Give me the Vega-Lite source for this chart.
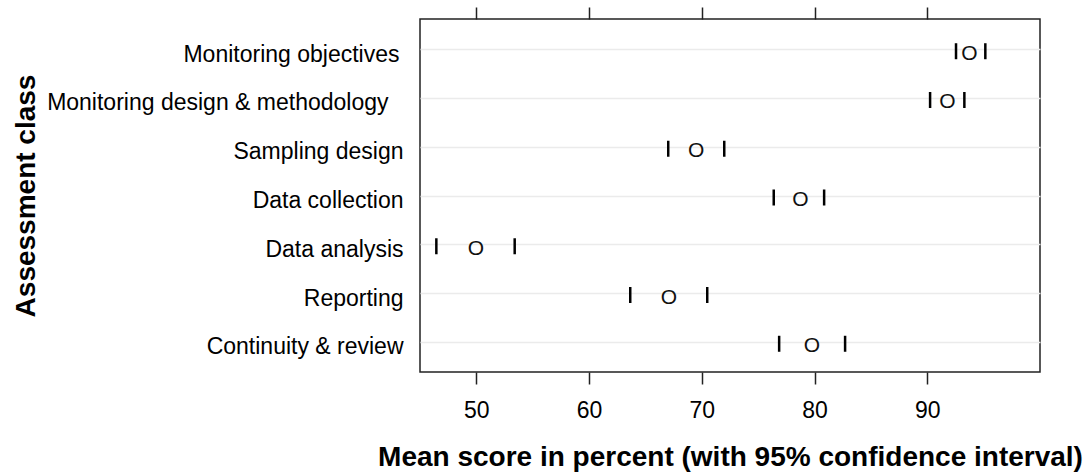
{
  "$schema": "https://vega.github.io/schema/vega-lite/v6.json",
  "width": 620,
  "height": 353,
  "autosize": {"type": "none"},
  "padding": {"left": 420, "top": 19, "right": 51, "bottom": 100},
  "background": "white",
  "config": {
    "view": {"stroke": "#222", "strokeWidth": 1.5},
    "font": "Liberation Sans"
  },
  "data": {
    "values": [
      {"class": "Monitoring objectives", "lower": 92.55, "mean": 93.75, "upper": 95.15},
      {"class": "Monitoring design & methodology", "lower": 90.25, "mean": 91.78, "upper": 93.29},
      {"class": "Sampling design", "lower": 67.02, "mean": 69.5, "upper": 71.99},
      {"class": "Data collection", "lower": 76.38, "mean": 78.75, "upper": 80.85},
      {"class": "Data analysis", "lower": 46.45, "mean": 49.97, "upper": 53.4},
      {"class": "Reporting", "lower": 63.65, "mean": 67.08, "upper": 70.48},
      {"class": "Continuity & review", "lower": 76.86, "mean": 79.76, "upper": 82.71}
    ]
  },
  "encoding": {
    "y": {
      "field": "class",
      "type": "nominal",
      "sort": null,
      "scale": {"type": "point", "padding": 0.62},
      "axis": {
        "domain": false,
        "ticks": false,
        "grid": true,
        "gridColor": "#ebebeb",
        "gridWidth": 1.5,
        "labelFont": "Liberation Sans",
        "labelFontSize": 23,
        "labelColor": "#000",
        "labelPadding": {
          "condition": [
            {"test": "datum.value == 'Monitoring objectives'", "value": 21},
            {"test": "datum.value == 'Monitoring design & methodology'", "value": 32}
          ],
          "value": 17
        },
        "labelOffset": 5,
        "labelLimit": 500,
        "title": "Assessment class",
        "titleFont": "Liberation Sans",
        "titleFontSize": 28,
        "titleFontWeight": "bold",
        "titleColor": "#000",
        "titleAngle": -90,
        "titleAlign": "center",
        "titleBaseline": "middle",
        "titleX": -394,
        "titleY": 176.5
      }
    }
  },
  "layer": [
    {
      "mark": {"type": "tick", "orient": "vertical", "size": 16, "thickness": 2.5, "color": "#000", "opacity": 1, "yOffset": 2},
      "encoding": {
        "x": {
          "field": "lower",
          "type": "quantitative",
          "scale": {"domain": [45, 100], "nice": false, "zero": false},
          "axis": {
            "orient": "bottom",
            "values": [50, 60, 70, 80, 90],
            "domain": false,
            "grid": false,
            "tickSize": 12,
            "tickColor": "#222",
            "tickWidth": 1.5,
            "labelFont": "Liberation Sans",
            "labelFontSize": 23,
            "labelColor": "#000",
            "labelPadding": 15,
            "title": "Mean score in percent (with 95% confidence interval)",
            "titleFont": "Liberation Sans",
            "titleFontSize": 28,
            "titleFontWeight": "bold",
            "titleColor": "#000",
            "titleBaseline": "alphabetic",
            "titleAlign": "center",
            "titleX": 310,
            "titleY": 93
          }
        }
      }
    },
    {
      "mark": {"type": "tick", "orient": "vertical", "size": 16, "thickness": 2.5, "color": "#000", "opacity": 1, "yOffset": 2},
      "encoding": {
        "x": {
          "field": "upper",
          "type": "quantitative",
          "scale": {"domain": [45, 100], "nice": false, "zero": false},
          "axis": {
            "orient": "top",
            "values": [50, 60, 70, 80, 90],
            "domain": false,
            "grid": false,
            "labels": false,
            "tickSize": 12,
            "tickColor": "#222",
            "tickWidth": 1.5,
            "title": null
          }
        }
      }
    },
    {
      "mark": {"type": "text", "text": "O", "font": "Liberation Sans", "fontSize": 21, "color": "#111", "align": "center", "baseline": "middle", "dy": 4.5},
      "encoding": {
        "x": {
          "field": "mean",
          "type": "quantitative",
          "scale": {"domain": [45, 100], "nice": false, "zero": false},
          "axis": null
        }
      }
    }
  ],
  "resolve": {"axis": {"x": "independent"}}
}
